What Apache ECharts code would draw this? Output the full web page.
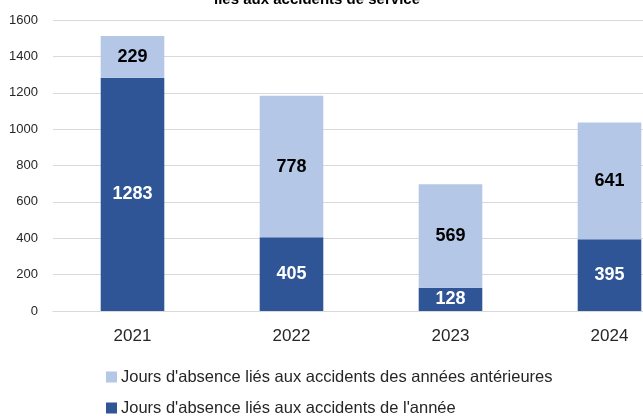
<!DOCTYPE html>
<html>
<head>
<meta charset="utf-8">
<script src="https://cdn.jsdelivr.net/npm/echarts@6/dist/echarts.min.js"></script>
<style>
  html, body { margin: 0; padding: 0; background: #fff; overflow: hidden; }
  /* the plot runs past the right edge of the window, so the canvas is wider than the view */
  #chart { width: 689px; height: 416px; }
</style>
</head>
<body>
<div id="chart"></div>
<script>
// Jours d'absence par année, répartis selon l'année de l'accident
const years = ['2021', '2022', '2023', '2024'];
const joursAnnee = [1283, 405, 128, 395];
const joursAnterieurs = [229, 778, 569, 641];
const yTicks = { min: 0, max: 1600, interval: 200 };

const nomAnnee = "Jours d'absence liés aux accidents de l'année";
const nomAnterieurs = "Jours d'absence liés aux accidents des années antérieures";
const titre = 'liés aux accidents de service';

const FONT = '"Liberation Sans", Arial, sans-serif';
const DARK = '#2F5597';
const LIGHT = '#B4C7E7';

// one legend per row so each line sits on its own baseline
function legendRow(name, top) {
  return {
    orient: 'horizontal',
    left: 106,
    top: top,
    padding: 0,
    itemWidth: 11,
    itemHeight: 11,
    itemGap: 0,
    icon: 'rect',
    textStyle: { fontSize: 16.5, lineHeight: 20, color: '#262626', fontFamily: FONT, padding: [0, 0, 0, -1] },
    data: [name]
  };
}

const chart = echarts.init(document.getElementById('chart'), null, { renderer: 'canvas' });

chart.setOption({
  animation: false,
  backgroundColor: '#ffffff',
  textStyle: { fontFamily: FONT },
  graphic: [{
    type: 'text',
    x: 317,
    y: -8,
    style: {
      text: titre,
      font: 'bold 15px ' + FONT,
      fill: '#000000',
      align: 'center'
    }
  }],
  grid: { left: 53, top: 20, right: 0, height: 291, containLabel: false },
  legend: [legendRow(nomAnterieurs, 367), legendRow(nomAnnee, 398)],
  xAxis: {
    type: 'category',
    data: years,
    axisLine: { show: true, lineStyle: { color: '#d9d9d9', width: 1 } },
    axisTick: { show: false },
    axisLabel: { color: '#262626', fontSize: 17, margin: 17 }
  },
  yAxis: {
    type: 'value',
    min: yTicks.min,
    max: yTicks.max,
    interval: yTicks.interval,
    axisLine: { show: false },
    axisTick: { show: false },
    splitLine: { lineStyle: { color: '#d9d9d9', width: 1 } },
    axisLabel: { color: '#262626', fontSize: 13, margin: 15, formatter: (v) => String(v) }
  },
  series: [
    {
      name: nomAnnee,
      type: 'bar',
      stack: 'total',
      barWidth: '40%',
      data: joursAnnee,
      itemStyle: { color: DARK },
      label: { show: true, position: 'inside', color: '#ffffff', fontWeight: 'bold', fontSize: 18 }
    },
    {
      name: nomAnterieurs,
      type: 'bar',
      stack: 'total',
      barWidth: '40%',
      data: joursAnterieurs,
      itemStyle: { color: LIGHT },
      label: { show: true, position: 'inside', color: '#000000', fontWeight: 'bold', fontSize: 18 }
    }
  ]
});
</script>
</body>
</html>
